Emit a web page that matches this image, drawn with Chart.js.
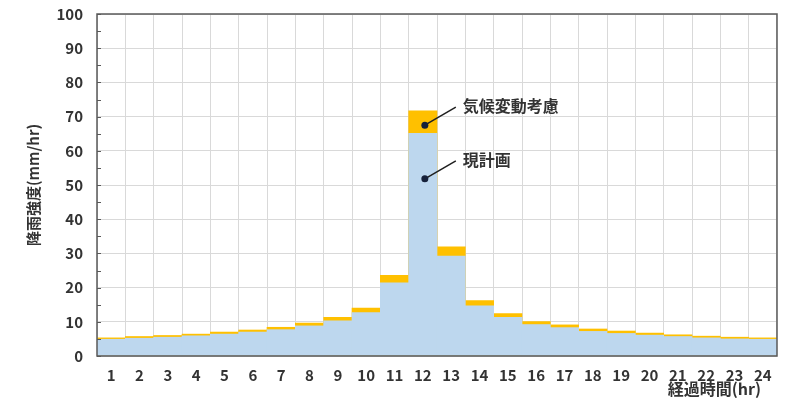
<!DOCTYPE html>
<html lang="ja">
<head>
<meta charset="utf-8">
<title>降雨強度</title>
<script src="https://cdn.jsdelivr.net/npm/chart.js@4.4.1/dist/chart.umd.min.js"></script>
<style>
  html, body { margin: 0; padding: 0; background: #fff; }
  #wrap { width: 790px; height: 406px; }
</style>
</head>
<body>
<div id="wrap"><canvas id="rainChart" width="790" height="406"></canvas></div>
<script>
// hours 1..24
const hours = ['1','2','3','4','5','6','7','8','9','10','11','12','13','14','15','16','17','18','19','20','21','22','23','24'];

// 現計画 (mm/hr)
const planValues = [4.9, 5.2, 5.5, 5.9, 6.4, 7.0, 7.7, 8.8, 10.3, 12.7, 21.4, 65.1,
                    29.2, 14.7, 11.3, 9.2, 8.3, 7.2, 6.6, 6.1, 5.7, 5.3, 5.0, 4.9];

// 気候変動考慮 (mm/hr)
const climateValues = [5.3, 5.7, 6.0, 6.4, 7.0, 7.6, 8.4, 9.6, 11.3, 14.0, 23.6, 71.7,
                       31.9, 16.2, 12.4, 10.1, 9.1, 7.9, 7.3, 6.7, 6.2, 5.8, 5.5, 5.3];

const yTicks = [0, 10, 20, 30, 40, 50, 60, 70, 80, 90, 100];

// callouts: label, category, value where the dot sits
const noteLabels = ['気候変動考慮', '現計画'];
const noteHours = ['12', '12'];
const noteValues = [67.5, 51.8];

const FONT = '"Noto Sans CJK JP", "Noto Sans", sans-serif';
const TEXT = '#333333';

// little ticks on the inside of the y axis, every 5
const minorTicks = {
  id: 'minorTicks',
  afterDatasetsDraw(chart) {
    const {ctx, chartArea, scales} = chart;
    ctx.save();
    ctx.strokeStyle = '#595959';
    ctx.lineWidth = 1;
    for (let v = 0; v <= 100; v += 5) {
      let y = Math.round(scales.y.getPixelForValue(v)) + 0.5;
      ctx.beginPath();
      ctx.moveTo(chartArea.left, y);
      ctx.lineTo(chartArea.left + 4, y);
      ctx.stroke();
    }
    ctx.restore();
  }
};

// frame round the plot area
const plotFrame = {
  id: 'plotFrame',
  afterDraw(chart) {
    const {ctx, chartArea} = chart;
    ctx.save();
    ctx.strokeStyle = '#595959';
    ctx.lineWidth = 1.5;
    ctx.strokeRect(chartArea.left, chartArea.top, chartArea.right - chartArea.left, chartArea.bottom - chartArea.top);
    ctx.restore();
  }
};

// dot + leader line + label
const callouts = {
  id: 'callouts',
  afterDraw(chart) {
    const {ctx, scales} = chart;
    ctx.save();
    for (let i = 0; i < noteLabels.length; i++) {
      let x = scales.x.getPixelForValue(hours.indexOf(noteHours[i])) + 2;
      let y = scales.y.getPixelForValue(noteValues[i]);
      ctx.strokeStyle = '#1f1f1f';
      ctx.lineWidth = 1.5;
      ctx.beginPath();
      ctx.moveTo(x, y);
      ctx.lineTo(x + 31, y - 18);
      ctx.stroke();
      ctx.fillStyle = '#16213a';
      ctx.beginPath();
      ctx.arc(x, y, 3.5, 0, Math.PI * 2);
      ctx.fill();
      ctx.fillStyle = TEXT;
      ctx.font = 'bold 16px ' + FONT;
      ctx.textAlign = 'left';
      ctx.textBaseline = 'middle';
      ctx.fillText(noteLabels[i], x + 38, y - 19);
    }
    ctx.restore();
  }
};

new Chart(document.getElementById('rainChart'), {
  type: 'bar',
  data: {
    labels: hours,
    datasets: [
      {
        label: '現計画',
        data: planValues,
        backgroundColor: '#BDD7EE',
        borderWidth: 0,
        grouped: false,
        barPercentage: 1,
        categoryPercentage: 1
      },
      {
        label: '気候変動考慮',
        data: climateValues,
        backgroundColor: '#FFC000',
        borderWidth: 0,
        grouped: false,
        barPercentage: 1,
        categoryPercentage: 1
      }
    ]
  },
  options: {
    responsive: false,
    devicePixelRatio: 1,
    animation: false,
    layout: { padding: { left: 0, top: 14, right: 13, bottom: 0 } },
    plugins: {
      legend: { display: false },
      tooltip: { enabled: false }
    },
    scales: {
      x: {
        grid: { color: '#d9d9d9', lineWidth: 1, offset: true, drawTicks: false },
        border: { display: false },
        ticks: {
          color: TEXT,
          font: { family: FONT, size: 15, weight: 'bold' },
          padding: 10,
          maxRotation: 0,
          autoSkip: false
        },
        title: {
          display: true,
          text: '経過時間(hr)\u3000',
          align: 'end',
          color: TEXT,
          font: { family: FONT, size: 16, weight: 'bold' },
          padding: { top: 0, bottom: 7 }
        },
        afterFit(scale) { scale.height = 50; }
      },
      y: {
        min: 0,
        max: 100,
        afterBuildTicks(scale) { scale.ticks = yTicks.map(v => ({ value: v })); },
        grid: { color: '#d9d9d9', lineWidth: 1, drawTicks: false },
        border: { display: false },
        ticks: {
          color: TEXT,
          font: { family: FONT, size: 15, weight: 'bold' },
          padding: 14
        },
        title: {
          display: true,
          text: '降雨強度(mm/hr)',
          color: TEXT,
          font: { family: FONT, size: 15, weight: 'bold' },
          padding: { top: 24, bottom: 0 }
        },
        afterFit(scale) {
          scale.width = 97;
          scale.paddingTop = 8;
          scale.paddingBottom = 0;
        }
      }
    }
  },
  plugins: [minorTicks, plotFrame, callouts]
});
</script>
</body>
</html>
